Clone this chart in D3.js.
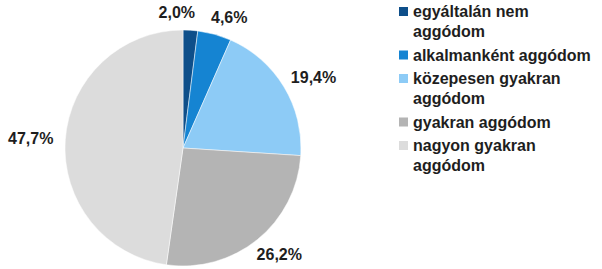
<!DOCTYPE html>
<html>
<head>
<meta charset="utf-8">
<script src="https://cdn.jsdelivr.net/npm/d3@7"></script>
<style>
  body { margin: 0; background: #fff; }
  svg text { font-family: "Liberation Sans", Arial, sans-serif; font-weight: bold; fill: #1e1e1e; }
</style>
</head>
<body>
<div id="chart"></div>
<script>
const categories = [
    'egyáltalán nem aggódom',
    'alkalmanként aggódom',
    'közepesen gyakran aggódom',
    'gyakran aggódom',
    'nagyon gyakran aggódom'
];
const values = [2.0, 4.6, 19.4, 26.2, 47.7];
const colors = ['#0e4f8a', '#1584d2', '#8dcbf6', '#b4b4b4', '#dcdcdc'];

const width = 602, height = 269;
const cx = 183, cy = 148, radius = 118;

const svg = d3.select('#chart')
    .append('svg')
    .attr('width', width)
    .attr('height', height);

const pie = d3.pie().sort(null).value(d => d);
const arcs = pie(values);
const arc = d3.arc().innerRadius(0).outerRadius(radius);

const g = svg.append('g').attr('transform', `translate(${cx},${cy})`);

g.selectAll('path')
    .data(arcs)
    .enter()
    .append('path')
    .attr('d', arc)
    .attr('fill', (d, i) => colors[i])
    .attr('stroke', '#fff')
    .attr('stroke-width', 0.5);

// data labels, placed just outside the rim
const fmt = v => v.toFixed(1).replace('.', ',') + '%';
const labelR = radius + 12;

const labels = g.selectAll('text.lbl')
    .data(arcs)
    .enter()
    .append('text')
    .attr('class', 'lbl')
    .attr('text-anchor', 'middle')
    .style('font-size', '16px')
    .text(d => fmt(d.data));

const boxes = [];
labels.each(function(d) {
    const w = this.getComputedTextLength();
    const h = 12;
    const a = (d.startAngle + d.endAngle) / 2;
    const s = Math.sin(a), c = Math.cos(a);
    boxes.push({ x: s * labelR + s * w / 2, y: -c * labelR - c * h / 2, w: w, h: h });
});

// push apart labels that collide (the earlier one gives way more)
const gap = 16;
for (let k = 0; k < 5; k++) {
    for (let i = 0; i < boxes.length; i++) {
        for (let j = i + 1; j < boxes.length; j++) {
            const a = boxes[i], b = boxes[j];
            if (Math.abs(a.y - b.y) < (a.h + b.h) / 2 + 4) {
                const need = (a.w + b.w) / 2 + gap - Math.abs(a.x - b.x);
                if (need > 0) {
                    const dir = a.x < b.x ? -1 : 1;
                    a.x += dir * need * 0.7;
                    b.x -= dir * need * 0.3;
                }
            }
        }
    }
}

labels
    .attr('x', (d, i) => boxes[i].x)
    .attr('y', (d, i) => boxes[i].y + 6);

// legend
const legend = svg.append('g').attr('transform', 'translate(399,17)');
const maxW = 182;
let yPos = 0;

categories.forEach((name, i) => {
    const item = legend.append('g').attr('transform', `translate(0,${yPos})`);
    item.append('rect')
        .attr('x', 0)
        .attr('y', -10)
        .attr('width', 9)
        .attr('height', 9)
        .attr('fill', colors[i]);

    const text = item.append('text')
        .attr('x', 14)
        .attr('y', 0)
        .style('font-size', '16px');

    const words = name.split(' ');
    let line = [];
    let lineNo = 0;
    let tspan = text.append('tspan').attr('x', 14).attr('dy', 0);
    words.forEach(word => {
        line.push(word);
        tspan.text(line.join(' '));
        if (tspan.node().getComputedTextLength() > maxW && line.length > 1) {
            line.pop();
            tspan.text(line.join(' '));
            line = [word];
            lineNo++;
            tspan = text.append('tspan').attr('x', 14).attr('dy', 20).text(word);
        }
    });

    yPos += lineNo * 20 + 23.5;
});
</script>
</body>
</html>
